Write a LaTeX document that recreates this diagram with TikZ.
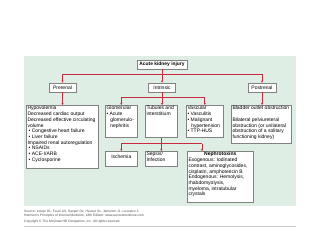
\documentclass[tikz,border=0pt]{standalone}
\usepackage{fontspec}
\setmainfont{Liberation Sans}
\usetikzlibrary{arrows.meta,calc,shadows}
\definecolor{bgc}{RGB}{222,238,229}
\definecolor{arrc}{RGB}{204,40,62}
\definecolor{bdc}{RGB}{130,130,130}
\newcommand\bxt[3]{\parbox[c][#2][t]{#1}{\raggedright #3}}
\newcommand\bul{\hspace*{1.2pt}\textbullet\ }
\tikzset{
  kbox/.style={draw=bdc, line width=0.6pt, fill=white, inner xsep=1.2pt, inner ysep=1pt,
    anchor=north west, font=\fontsize{5.0}{5.7}\selectfont,
    drop shadow={shadow xshift=0.5pt, shadow yshift=-0.5pt, fill=black!35, opacity=0.6}},
  hbox/.style={kbox, align=center, anchor=center, inner sep=0pt},
  conn/.style={draw=arrc, line width=0.65pt},
  karrow/.style={conn, -{Stealth[length=2.2pt,width=2.2pt]}},
  foot/.style={anchor=north west, inner sep=0pt, font=\fontsize{3.3}{3.6}\selectfont, text=black!70, align=left},
}
\begin{document}
\begin{tikzpicture}[x=1pt,y=-1pt]
\useasboundingbox (0,0) rectangle (320,240);
\fill[white] (0,0) rectangle (320,240);
\fill[bgc] (24,56) rectangle (296,206);
% top level
\node[hbox, minimum width=50pt, minimum height=9pt, font=\fontsize{4.9}{5.5}\selectfont\bfseries] (aki) at (162,64.5) {Acute kidney injury};
\node[hbox, minimum width=27pt, minimum height=9pt] (pre) at (62.5,87.5) {Prerenal};
\node[hbox, minimum width=27pt, minimum height=9pt] (intr) at (162,87.5) {Intrinsic};
\node[hbox, minimum width=28pt, minimum height=9pt] (post) at (262,87.5) {Postrenal};
% second level
\node[kbox] (preb) at (26,105) {\bxt{69.6pt}{61pt}{Hypovolemia\\Decreased cardiac output\\Decreased effective circulating\\volume\\\bul Congestive heart failure\\\bul Liver failure\\Impaired renal autoregulation\\\bul NSAIDs\\\bul ACE-I/ARB\\\bul Cyclosporine}};
\node[kbox] (glom) at (105,105) {\bxt{29.6pt}{30pt}{Glomerular\\\textbullet\ Acute\\\hspace*{3.8pt}glomerulo-\\\hspace*{3.8pt}nephritis}};
\node[kbox] (tub) at (145,105) {\bxt{29.6pt}{30pt}{Tubules and\\interstitium}};
\node[kbox] (vasc) at (186,105) {\bxt{34.6pt}{30pt}{Vascular\\\textbullet\ Vasculitis\\\textbullet\ Malignant\\\hspace*{3.8pt}hypertension\\\textbullet\ TTP-HUS}};
\node[kbox] (postb) at (231,105) {\bxt{57.6pt}{36pt}{Bladder outlet obstruction\\[5.7pt]Bilateral pelviureteral\\obstruction (or unilateral\\obstruction of a solitary\\functioning kidney)}};
% third level
\node[kbox] (isch) at (105,151) {\bxt{29.6pt}{13pt}{\centering\vspace*{3pt}Ischemia}};
\node[kbox] (seps) at (145,151) {\bxt{29.6pt}{13pt}{Sepsis/\\Infection}};
\node[kbox] (neph) at (187,151) {\bxt{63.6pt}{49pt}{\centering\textbf{Nephrotoxins}\par\raggedright Exogenous: Iodinated\\contrast, aminoglycosides,\\cisplatin, amphotericin B\\Endogenous: Hemolysis,\\rhabdomyolysis,\\myeloma, intratubular\\crystals}};
% connectors level 1
\draw[conn] (aki.south) -- ++(0,5) coordinate (j1);
\draw[conn] (pre.north |- j1) -- (post.north |- j1);
\draw[karrow] (pre.north |- j1) -- (pre.north);
\draw[karrow] (j1) -- (intr.north);
\draw[karrow] (post.north |- j1) -- (post.north);
\draw[karrow] (pre.south) -- (pre.south |- preb.north);
\draw[karrow] (post.south) -- (post.south |- postb.north);
% intrinsic split
\draw[conn] (intr.south) -- ++(0,5) coordinate (j2);
\draw[conn] (glom.north |- j2) -- (vasc.north |- j2);
\draw[karrow] (glom.north |- j2) -- (glom.north);
\draw[karrow] (j2) -- (j2 |- tub.north);
\draw[karrow] (vasc.north |- j2) -- (vasc.north);
% tubules split
\draw[conn] (tub.south) -- ++(0,6) coordinate (j3);
\coordinate (nt) at ($(neph.north west)+(15,0)$);
\draw[conn] (isch.north |- j3) -- (nt |- j3);
\draw[karrow] (isch.north |- j3) -- (isch.north);
\draw[karrow] (j3) -- (j3 |- seps.north);
\draw[karrow] (nt |- j3) -- (nt);
% footer
\node[foot] (src) at (24,210) {Source: Longo DL, Fauci AS, Kasper DL, Hauser SL, Jameson JL, Loscalzo J:\\Harrison's Principles of Internal Medicine, 18th Edition: www.accessmedicine.com};
\node[foot] (copy) at (24,219.5) {Copyright \textcopyright\ The McGraw-Hill Companies, Inc. All rights reserved.};
\draw[black!20, line width=0.4pt] (24,226) -- (296,226);
\end{tikzpicture}
\end{document}
